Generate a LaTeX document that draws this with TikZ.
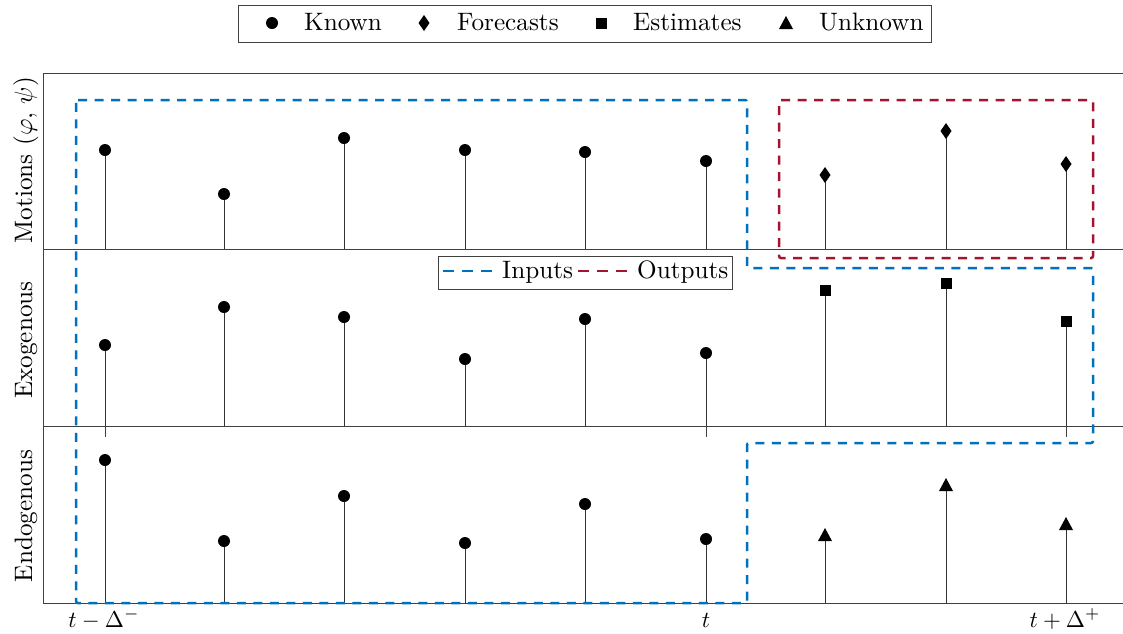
\documentclass[tikz,border=0pt]{standalone}
\begin{document}
\definecolor{inblue}{RGB}{0,114,189}
\definecolor{outred}{RGB}{162,20,47}
\definecolor{axgray}{RGB}{64,64,64}
\tikzset{
  axline/.style={draw=axgray, line width=1pt},
  stemline/.style={draw=black!80, line width=0.8pt},
  inbox/.style={draw=inblue, line width=2.5pt, dash pattern=on 9pt off 7.5pt, rounded corners=2pt},
  outbox/.style={draw=outred, line width=2.5pt, dash pattern=on 9pt off 7.5pt, rounded corners=2pt},
  lab/.style={font=\fontsize{10}{12}\selectfont, inner sep=0pt},
  legframe/.style={draw=axgray, line width=0.8pt, fill=white},
}
\newcommand{\sbx}[1]{\scalebox{2.52}{#1}}
\newcommand{\sbm}[1]{\scalebox{2.3}{#1}}
\newcommand{\mkcirc}[2]{\fill (#1,#2) circle (6);}
\newcommand{\mkdiam}[2]{\fill (#1,#2-8) -- (#1+5.5,#2) -- (#1,#2+8) -- (#1-5.5,#2) -- cycle;}
\newcommand{\mksq}[2]{\fill (#1-5.5,#2-5.5) rectangle (#1+5.5,#2+5.5);}
\newcommand{\mktri}[2]{\fill (#1,#2-7) -- (#1+7,#2+6) -- (#1-7,#2+6) -- cycle;}
\begin{tikzpicture}[x=1pt,y=-1pt]
\useasboundingbox (0,0) rectangle (1123,633);
% panel frame
\draw[axline] (1123,73) -- (43,73) -- (43,603) -- (1123,603);
\draw[axline] (43,249) -- (1123,249);
\draw[axline] (43,426) -- (1123,426);
% ticks
\foreach \x in {105,706,1066} {
  \draw[axline] (\x,426) -- (\x,437);
  \draw[axline] (\x,603) -- (\x,592);
}
% stems: top panel
\foreach \x/\y in {105/150,224/194,344/138,465/150,585/152,706/161,825/175,946/131,1066/164}
  {\draw[stemline] (\x,249) -- (\x,\y);}
% stems: middle panel
\foreach \x/\y in {105/345,224/307,344/317,465/359,585/319,706/353,825/290,946/283,1066/321}
  {\draw[stemline] (\x,426) -- (\x,\y);}
% stems: bottom panel
\foreach \x/\y in {105/460,224/541,344/496,465/543,585/504,706/539,825/535,946/485,1066/524}
  {\draw[stemline] (\x,603) -- (\x,\y);}
% dashed regions
\draw[inbox] (76,100) -- (747,100) -- (747,268) -- (1093,268) -- (1093,443) -- (747,443) -- (747,603) -- (76,603) -- cycle;
\draw[outbox] (779,100) -- (1093,100) -- (1093,258) -- (779,258) -- cycle;
% markers
\foreach \x/\y in {105/150,224/194,344/138,465/150,585/152,706/161} {\mkcirc{\x}{\y}}
\foreach \x/\y in {825/175,946/131,1066/164} {\mkdiam{\x}{\y}}
\foreach \x/\y in {105/345,224/307,344/317,465/359,585/319,706/353} {\mkcirc{\x}{\y}}
\foreach \x/\y in {825/290,946/283,1066/321} {\mksq{\x}{\y}}
\foreach \x/\y in {105/460,224/541,344/496,465/543,585/504,706/539} {\mkcirc{\x}{\y}}
\foreach \x/\y in {825/535,946/485,1066/524} {\mktri{\x}{\y}}
% axis labels
\node[lab, rotate=90, anchor=base] (lmot) at (32,160) {\sbx{Motions $(\varphi,\,\psi)$}};
\node[lab, rotate=90, anchor=base] (lexo) at (32,340) {\sbx{Exogenous}};
\node[lab, rotate=90, anchor=base] (lendo) at (32,516) {\sbx{Endogenous}};
% tick labels
\node[lab, anchor=base] (t1) at (104,627) {\sbm{$t-\Delta^-$}};
\node[lab, anchor=base] (t2) at (706,627) {\sbm{$t$}};
\node[lab, anchor=base] (t3) at (1065,627) {\sbm{$t+\Delta^+$}};
% top legend
\draw[legframe] (238,5) rectangle (931,42);
\mkcirc{272}{23}
\mkdiam{424}{23}
\mksq{601}{23}
\mktri{786}{23}
\node[lab, anchor=base west] (lk) at (304,30) {\sbx{Known}};
\node[lab, anchor=base west] (lf) at (457,30) {\sbx{Forecasts}};
\node[lab, anchor=base west] (le) at (633,30) {\sbx{Estimates}};
\node[lab, anchor=base west] (lu) at (819,30) {\sbx{Unknown}};
% inner legend
\draw[legframe] (438,256) rectangle (732,289);
\draw[inblue, line width=2.5pt, dash pattern=on 11pt off 8pt] (443,271) -- (500,271);
\draw[outred, line width=2.5pt, dash pattern=on 11pt off 8pt] (578,271) -- (635,271);
\node[lab, anchor=base west] (li) at (502,278) {\sbx{Inputs}};
\node[lab, anchor=base west] (lo) at (637,278) {\sbx{Outputs}};
\end{tikzpicture}
\end{document}
